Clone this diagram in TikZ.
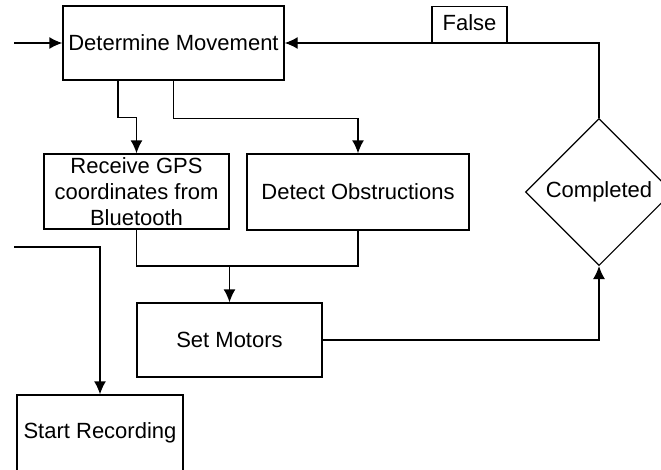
\documentclass[tikz,border=0pt]{standalone}
\usepackage{fontspec}
\setmainfont{Liberation Sans}
\usepackage{tikz}
\usetikzlibrary{arrows.meta,shapes.geometric}

\begin{document}
\begin{tikzpicture}[x=1pt,y=-1pt,>={Latex[length=13pt,width=12pt]}]
  \tikzstyle{stepBox} = [draw, line width=1.4pt, fill=white, rectangle, inner sep=2pt, align=center, font={\fontsize{22}{26}\selectfont}]
  \tikzstyle{testBox} = [draw, line width=1.1pt, fill=white, diamond, shape aspect=1, inner sep=0pt, minimum size=147pt, font={\fontsize{22}{26}\selectfont}]
  \tikzstyle{flowEdgePortion} = [black, line width=1.4pt];
  \tikzstyle{flowEdge} = [flowEdgePortion,->];

  \useasboundingbox (0,0) rectangle (661,469);

  \node[stepBox, minimum width=221pt, minimum height=74pt] (A) at (173.5,43)  {Determine Movement};
  \node[stepBox, minimum width=185pt, minimum height=75pt] (B) at (136.5,191.5) {Receive GPS\\coordinates from\\Bluetooth};
  \node[stepBox, minimum width=222pt, minimum height=76pt] (C) at (358,192)  {Detect Obstructions};
  \node[stepBox, minimum width=185pt, minimum height=74pt] (D) at (229.5,340) {Set Motors};
  \node[testBox]                                           (E) at (599,192)  {Completed};
  \node[stepBox, minimum width=166pt, minimum height=76pt] (F) at (100,433)  {Start Recording};

  \coordinate (in)    at (14,43);
  \coordinate (feed)  at (14,247);
  \coordinate (merge) at (229.5,266);

  \draw[flowEdge] (in) -- (A.west);
  \draw[flowEdge] ([xshift=-55.5pt]A.south) -- ++(0,37) -| (B.north);
  \draw[flowEdge] (A.south) -- ++(0,38) -| (C.north);
  \draw[flowEdgePortion] (B.south) |- (merge) -| (C.south);
  \draw[flowEdge] (merge) -- (D.north);
  \draw[flowEdge] (D.east) -| (E.south);
  \draw[flowEdge] (E.north) |- (A.east);
  \node[stepBox, line width=1.1pt, minimum width=75pt, minimum height=36pt, anchor=south, inner sep=1pt] (G) at (469.5,43) {\raisebox{3pt}{False}};
  \draw[flowEdge] (feed) -| (F.north);
\end{tikzpicture}
\end{document}
